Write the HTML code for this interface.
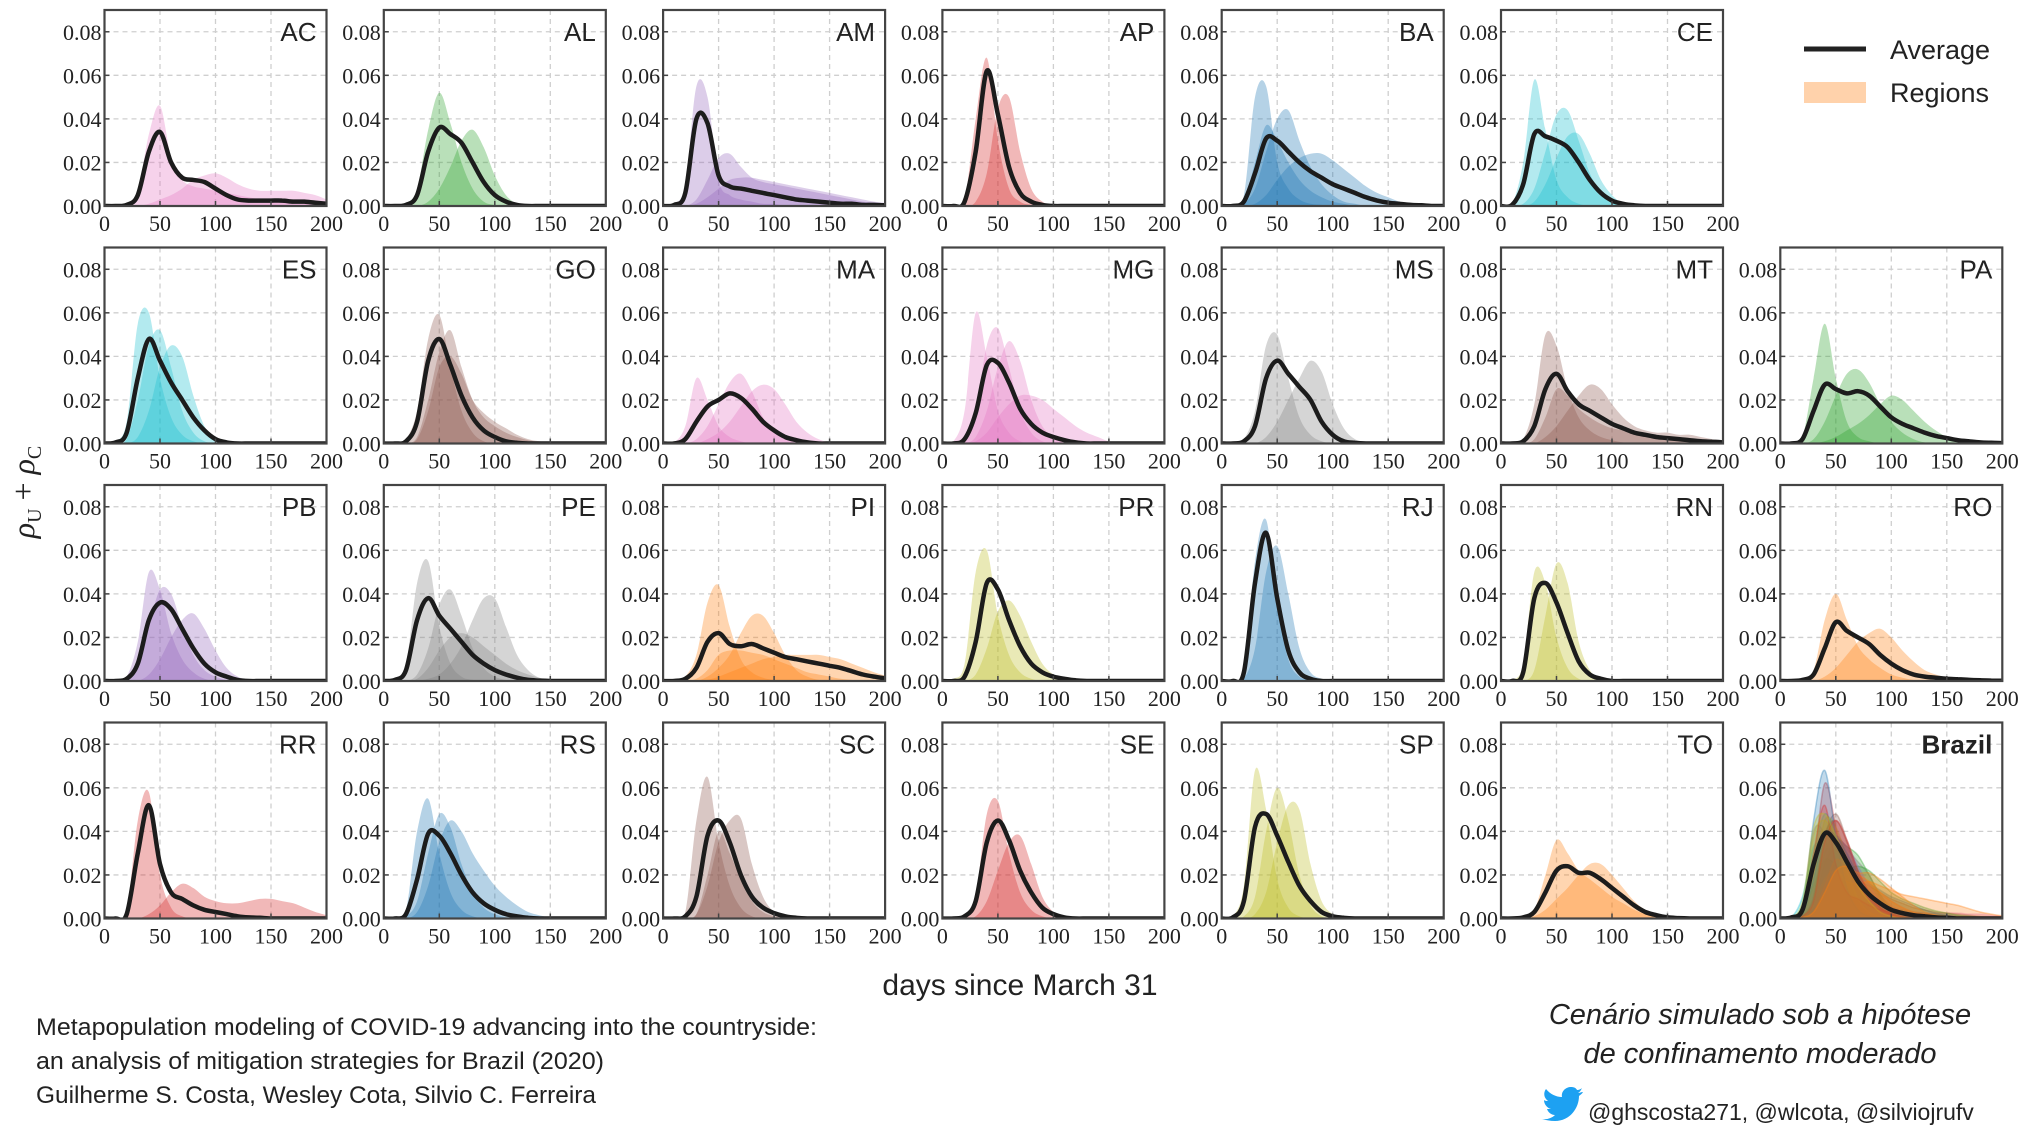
<!DOCTYPE html>
<html><head><meta charset="utf-8"><style>
html,body{margin:0;padding:0;background:#fff;}
svg{display:block;}
</style></head><body>
<svg id="chart" width="2027" height="1140" viewBox="0 0 2027 1140" xmlns="http://www.w3.org/2000/svg">
<g id="panels"></g>
<g>
  <line x1="1804" y1="49" x2="1866" y2="49" stroke="#222" stroke-width="5"/>
  <text x="1890" y="59" font-family="Liberation Sans, sans-serif" font-size="27" fill="#222">Average</text>
  <rect x="1804" y="82" width="62" height="21" fill="#ff7f0e" fill-opacity="0.35"/>
  <text x="1890" y="102" font-family="Liberation Sans, sans-serif" font-size="27" fill="#222">Regions</text>
</g>
<text x="1020" y="995" text-anchor="middle" font-family="Liberation Sans, sans-serif" font-size="30" fill="#222">days since March 31</text>
<text transform="translate(34,492) rotate(-90)" text-anchor="middle" font-family="Liberation Serif, serif" font-size="32" fill="#222"><tspan font-style="italic">ρ</tspan><tspan font-size="20" dy="7">U</tspan><tspan dy="-7"> + </tspan><tspan font-style="italic">ρ</tspan><tspan font-size="20" dy="7">C</tspan></text>
<g font-family="Liberation Sans, sans-serif" font-size="24" fill="#222">
  <text x="36" y="1035" textLength="781" lengthAdjust="spacingAndGlyphs">Metapopulation modeling of COVID-19 advancing into the countryside:</text>
  <text x="36" y="1069" textLength="568" lengthAdjust="spacingAndGlyphs">an analysis of mitigation strategies for Brazil (2020)</text>
  <text x="36" y="1103" textLength="560" lengthAdjust="spacingAndGlyphs">Guilherme S. Costa, Wesley Cota, Silvio C. Ferreira</text>
</g>
<g font-family="Liberation Sans, sans-serif" font-size="29" font-style="italic" fill="#222" text-anchor="middle">
  <text x="1760" y="1024">Cenário simulado sob a hipótese</text>
  <text x="1760" y="1063">de confinamento moderado</text>
</g>
<path transform="translate(0,13)" d="M1541,1106 c6,1 11,-1 14,-4 c-4,0 -7,-3 -8,-6 c1,0 3,0 4,0 c-4,-1 -7,-5 -7,-9 c1,1 3,1 4,1 c-4,-3 -5,-8 -2,-12 c4,5 10,8 16,8 c-1,-6 4,-10 9,-10 c3,0 5,1 6,3 c2,0 4,-1 5,-2 c-1,2 -2,4 -4,5 c2,0 3,-1 5,-1 c-1,2 -3,3 -4,4 c0,12 -9,25 -24,25 c-5,0 -9,-1 -14,-2 z" fill="#1da1f2"/>
<text x="1588" y="1120" font-family="Liberation Sans, sans-serif" font-size="23" fill="#222">@ghscosta271, @wlcota, @silviojrufv</text>
</svg>
<script>
// ---- data (values in thousandths, sampled every 10 days: 0..200) ----
const days = [0,10,20,30,40,50,60,70,80,90,100,110,120,130,140,150,160,170,180,190,200];
const xTicks = [0,50,100,150,200];
const xTickLabels = ["0","50","100","150","200"];
const yTicks = [0,20,40,60,80];
const yTickLabels = ["0.00","0.02","0.04","0.06","0.08"];
const panelNames = ["AC","AL","AM","AP","BA","CE",null,"ES","GO","MA","MG","MS","MT","PA","PB","PE","PI","PR","RJ","RN","RO","RR","RS","SC","SE","SP","TO","Brazil"];
const colors = {AC:"#e377c2",AL:"#2ca02c",AM:"#9467bd",AP:"#d62728",BA:"#1f77b4",CE:"#17becf",ES:"#17becf",GO:"#8c564b",MA:"#e377c2",MG:"#e377c2",MS:"#7f7f7f",MT:"#8c564b",PA:"#2ca02c",PB:"#9467bd",PE:"#7f7f7f",PI:"#ff7f0e",PR:"#bcbd22",RJ:"#1f77b4",RN:"#bcbd22",RO:"#ff7f0e",RR:"#d62728",RS:"#1f77b4",SC:"#8c564b",SE:"#d62728",SP:"#bcbd22",TO:"#ff7f0e"};
const averages = {
AC:[0,0,0.5,5,25,34,20,13,12,11,8,5,3,2.5,2.5,2.5,2.5,2,2,1.5,1],
AL:[0,0,0.5,5,25,36,33,29,20,11,5,2,0.5,0,0,0,0,0,0,0,0],
AM:[0,0.5,6,40,38,14,9,8,7,6,5,4,3,2.5,2,1.5,1,1,0.5,0.5,0.3],
AP:[0,0,2,25,62,42,18,6,2,0.5,0,0,0,0,0,0,0,0,0,0,0],
BA:[0,0,2,15,31,30,25,20,16,13,10,8,6,4,2.5,1.5,1,0.5,0.3,0,0],
CE:[0,0.5,10,33,32,30,27,20,12,6,2.5,1,0.3,0,0,0,0,0,0,0,0],
ES:[0,0.5,5,30,48,38,28,20,12,6,2,0.5,0,0,0,0,0,0,0,0,0],
GO:[0,0,1,10,38,48,36,22,12,6,3,1,0.3,0,0,0,0,0,0,0,0],
MA:[0,0,2,10,17,20,23,21,16,10,6,3,1.5,0.5,0,0,0,0,0,0,0],
MG:[0,0,2,14,36,37,28,16,9,5,3,1.5,0.5,0,0,0,0,0,0,0,0],
MS:[0,0,1,8,30,38,32,26,20,10,4,1,0.3,0,0,0,0,0,0,0,0],
MT:[0,0,1,8,25,32,24,18,15,12,9,7,5,4,3,2.5,2,1.5,1,0.8,0.5],
PA:[0,0,2,15,27,25,23,24,22,17,12,9,7,5,3.5,2.5,1.5,1,0.5,0.3,0.2],
PB:[0,0,1,8,28,36,33,24,15,8,4,2,0.5,0,0,0,0,0,0,0,0],
PE:[0,0.5,5,28,38,30,24,18,12,8,5,3,1.5,0.5,0.2,0,0,0,0,0,0],
PI:[0,0,1,6,18,22,17,16,17,15,13,11,10,9,8,7,6,4.5,3,2,1.2],
PR:[0,0,2,18,45,42,28,16,8,4,2,1,0.3,0,0,0,0,0,0,0,0],
RJ:[0,0,4,45,68,38,14,4,1,0,0,0,0,0,0,0,0,0,0,0,0],
RN:[0,0,4,38,45,36,22,9,3,1,0,0,0,0,0,0,0,0,0,0,0],
RO:[0,0,0.5,3,15,27,23,20,17,12,8,5,3,2,1.5,1,0.8,0.5,0.3,0.2,0.1],
RR:[0,0,2,30,52,25,12,9,6,4,3,2,1,0.5,0.3,0,0,0,0,0,0],
RS:[0,0,2,18,39,38,30,20,12,7,4,2,1,0.3,0,0,0,0,0,0,0],
SC:[0,0,1,10,38,45,35,20,10,5,2.5,1,0.3,0,0,0,0,0,0,0,0],
SE:[0,0,1,8,35,45,36,22,12,5,2,0.5,0,0,0,0,0,0,0,0,0],
SP:[0,0.5,8,42,48,38,26,15,8,3,1,0.3,0,0,0,0,0,0,0,0,0],
TO:[0,0,0.5,3,12,22,24,21,21,18,14,10,6,3,1.5,0.5,0.2,0,0,0,0],
Brazil:[0,0.5,4,25,39,35,26,17,11,7,4,2.5,1.5,1,0.5,0.3,0,0,0,0,0]
};
const regions = {
AC:[[0,0,1,7,33,46,22,12,9,8,7,6,5,4,3,2,2,1,1,0.5,0.3],[0,0,0,0,1,3,5,8,12,14,15,13,10,8,7,7,7,7,6,5,3]],
AL:[[0,0,1,8,35,52,38,20,8,2,0.5,0,0,0,0,0,0,0,0,0,0],[0,0,0,0,2,8,18,30,35,27,14,5,1,0,0,0,0,0,0,0,0]],
AM:[[0,1,10,55,50,12,5,3,2,1,1,0,0,0,0,0,0,0,0,0,0],[0,0,0,3,12,22,24,18,13,11,10,9,8,7,6,5,4,3,2,1.5,1],[0,0,0,1,4,8,12,13,13,12,11,10,9,8,7,6,5,4,3,2,1.5]],
AP:[[0,0,3,40,68,30,8,2,0.5,0,0,0,0,0,0,0,0,0,0,0,0],[0,0,0,2,15,45,50,25,8,2,0.5,0,0,0,0,0,0,0,0,0,0]],
BA:[[0,0,5,50,55,20,8,3,1,0.5,0,0,0,0,0,0,0,0,0,0,0],[0,0,1,8,25,40,44,30,18,10,5,2,1,0,0,0,0,0,0,0,0],[0,0,0,1,5,12,18,22,24,24,21,17,13,9,6,4,2,1,0.5,0,0],[0,0,2,20,37,30,20,12,7,4,2,1,0,0,0,0,0,0,0,0,0]],
CE:[[0,1,20,58,35,12,4,1,0,0,0,0,0,0,0,0,0,0,0,0,0],[0,0,1,8,25,42,44,30,15,6,2,0.5,0,0,0,0,0,0,0,0,0],[0,0,0,2,10,22,32,33,24,12,5,1,0,0,0,0,0,0,0,0,0]],
ES:[[0,1,10,55,60,30,12,4,1,0,0,0,0,0,0,0,0,0,0,0,0],[0,0,2,20,45,52,35,15,5,1,0,0,0,0,0,0,0,0,0,0,0],[0,0,0,3,15,35,45,40,22,8,2,0.3,0,0,0,0,0,0,0,0,0]],
GO:[[0,0,2,15,48,59,35,15,5,1,0,0,0,0,0,0,0,0,0,0,0],[0,0,0,3,20,42,52,35,20,12,8,5,3,1.5,0.8,0.4,0.2,0,0,0,0],[0,0,0,2,15,35,40,32,20,14,10,7,4,2,1,0.5,0,0,0,0,0]],
MA:[[0,0.5,8,30,20,8,3,1,0,0,0,0,0,0,0,0,0,0,0,0,0],[0,0,0,2,8,18,28,32,24,12,5,2,0.5,0,0,0,0,0,0,0,0],[0,0,0,0,2,5,10,17,24,27,25,18,10,5,2,0.5,0,0,0,0,0]],
MG:[[0,1,15,60,40,15,5,1,0,0,0,0,0,0,0,0,0,0,0,0,0],[0,0,2,15,45,53,35,15,5,1,0,0,0,0,0,0,0,0,0,0,0],[0,0,0,3,15,35,47,38,20,8,3,1,0,0,0,0,0,0,0,0,0],[0,0,0,1,5,12,18,22,22,20,16,12,8,5,3,1,0.5,0,0,0,0]],
MS:[[0,0,2,15,45,50,30,12,4,1,0,0,0,0,0,0,0,0,0,0,0],[0,0,0,0,3,10,20,30,38,33,18,7,2,0.5,0,0,0,0,0,0,0]],
MT:[[0,0,2,18,50,45,25,12,6,3,1.5,0.5,0,0,0,0,0,0,0,0,0],[0,0,0,0,3,8,15,22,27,25,18,12,8,6,5,5,4,4,3,2,1],[0,0,0,2,12,25,22,16,12,9,7,6,5,4,3,2,1.5,1,0.5,0.3,0]],
PA:[[0,0,3,30,55,30,10,3,1,0,0,0,0,0,0,0,0,0,0,0,0],[0,0,0,2,10,22,32,34,28,18,10,5,2,0.5,0,0,0,0,0,0,0],[0,0,0,0,1,3,6,9,13,18,22,20,15,10,6,3,1.5,0.5,0,0,0]],
PB:[[0,0,2,18,50,42,22,10,4,1,0,0,0,0,0,0,0,0,0,0,0],[0,0,1,6,25,42,40,25,12,5,2,0.5,0,0,0,0,0,0,0,0,0],[0,0,0,0,3,10,20,28,31,24,14,6,2,0.5,0,0,0,0,0,0,0]],
PE:[[0,1,8,45,55,25,8,2,0.5,0,0,0,0,0,0,0,0,0,0,0,0],[0,0,0,3,15,35,42,30,15,6,2,0.5,0,0,0,0,0,0,0,0,0],[0,0,0,0,1,3,8,16,28,38,38,25,12,5,1.5,0.5,0,0,0,0,0],[0,0,0,1,6,14,20,22,20,16,12,8,5,3,1.5,0.5,0,0,0,0,0]],
PI:[[0,0,2,12,36,44,25,10,4,1.5,0.5,0,0,0,0,0,0,0,0,0,0],[0,0,0,0,2,6,12,22,30,30,22,12,5,2,0.5,0,0,0,0,0,0],[0,0,0,0,0.5,2,4,6,8,10,11,12,12,12,12,11,10,8,6,4,2.5],[0,0,0,1,5,12,14,14,13,12,10,8,6,4,3,2,1,0.5,0,0,0]],
PR:[[0,1,8,50,60,30,12,4,1,0,0,0,0,0,0,0,0,0,0,0,0],[0,0,0,3,15,32,37,30,18,8,3,1,0,0,0,0,0,0,0,0,0]],
RJ:[[0,0,5,55,74,35,10,2,0.5,0,0,0,0,0,0,0,0,0,0,0,0],[0,0,1,15,50,62,40,15,4,1,0,0,0,0,0,0,0,0,0,0,0]],
RN:[[0,0.5,8,50,45,20,6,1,0,0,0,0,0,0,0,0,0,0,0,0,0],[0,0,0,5,30,54,45,18,5,1,0,0,0,0,0,0,0,0,0,0,0]],
RO:[[0,0,1,5,28,40,28,16,10,6,3,1.5,0.5,0,0,0,0,0,0,0,0],[0,0,0,0,2,6,12,18,22,24,20,14,9,5,3,1.5,1,0.5,0,0,0]],
RR:[[0,0,3,45,58,20,5,1,0,0,0,0,0,0,0,0,0,0,0,0,0],[0,0,0,0,2,6,12,16,14,10,8,7,7,8,9,9,8,7,5,3,1.5]],
RS:[[0,0,4,40,55,30,12,4,1,0,0,0,0,0,0,0,0,0,0,0,0],[0,0,1,8,30,48,42,25,12,5,2,0.5,0,0,0,0,0,0,0,0,0],[0,0,0,3,15,35,45,40,30,22,15,10,6,3,1.5,0.5,0,0,0,0,0]],
SC:[[0,0,3,45,65,35,15,5,1,0,0,0,0,0,0,0,0,0,0,0,0],[0,0,0,2,15,35,45,46,25,10,3,1,0,0,0,0,0,0,0,0,0],[0,0,0,2,20,40,30,18,8,3,1,0,0,0,0,0,0,0,0,0,0]],
SE:[[0,0,1,10,48,54,30,12,4,1,0,0,0,0,0,0,0,0,0,0,0],[0,0,0,1,8,22,35,38,25,10,3,0.5,0,0,0,0,0,0,0,0,0]],
SP:[[0,1,15,68,50,18,5,1,0,0,0,0,0,0,0,0,0,0,0,0,0],[0,0,1,10,40,60,45,20,6,1,0,0,0,0,0,0,0,0,0,0,0],[0,0,0,2,12,35,52,50,25,8,2,0.5,0,0,0,0,0,0,0,0,0]],
TO:[[0,0,0.5,4,20,36,30,22,18,14,10,7,4,2,1,0.3,0,0,0,0,0],[0,0,0,1,4,9,14,20,25,25,20,14,8,4,2,0.5,0,0,0,0,0]]
};
// ---- layout ----
const NS="http://www.w3.org/2000/svg";
const colX0=104.5, colPitch=279.3, panelW=222, rowY0=10, rowPitch=237.5, panelH=196, yMax=90, xMax=200;
function mk(tag, attrs, parent){const e=document.createElementNS(NS,tag);for(const k in attrs)e.setAttribute(k,attrs[k]);parent.appendChild(e);return e;}
function smoothPath(pts){
  let d="M"+pts[0][0].toFixed(1)+","+pts[0][1].toFixed(1);
  for(let i=0;i<pts.length-1;i++){
    const p0=pts[Math.max(i-1,0)],p1=pts[i],p2=pts[i+1],p3=pts[Math.min(i+2,pts.length-1)];
    const c1=[p1[0]+(p2[0]-p0[0])/6,p1[1]+(p2[1]-p0[1])/6];
    const c2=[p2[0]-(p3[0]-p1[0])/6,p2[1]-(p3[1]-p1[1])/6];
    d+=" C"+c1[0].toFixed(1)+","+c1[1].toFixed(1)+" "+c2[0].toFixed(1)+","+c2[1].toFixed(1)+" "+p2[0].toFixed(1)+","+p2[1].toFixed(1);
  }
  return d;
}
const root=document.getElementById("panels");
panelNames.forEach((name,idx)=>{
  if(!name) return;
  const col=idx%7,row=Math.floor(idx/7);
  const L=colX0+col*colPitch, T=rowY0+row*rowPitch, B=T+panelH, R=L+panelW;
  const xs=v=>L+v/xMax*panelW;
  const ys=v=>B-v/yMax*panelH;
  const g=mk("g",{},root);
  
  
  const cid="clip"+idx;
  const cp=mk("clipPath",{id:cid},g); mk("rect",{x:L,y:T,width:panelW,height:panelH},cp);
  xTicks.forEach(t=>{ if(t>0&&t<xMax){const l=mk("line",{x1:xs(t),x2:xs(t),y1:T,y2:B,stroke:"#cfcfcf","stroke-width":1.3,"stroke-dasharray":"5,4"},g);
    
    }});
  yTicks.forEach(t=>{ if(t>0){const l=mk("line",{x1:L,x2:R,y1:ys(t),y2:ys(t),stroke:"#cfcfcf","stroke-width":1.3,"stroke-dasharray":"5,4"},g);
    
    }});
  const dg=mk("g",{"clip-path":"url(#"+cid+")"},g);
  let regs;
  if(name==="Brazil"){ regs=Object.keys(averages).filter(k=>k!=="Brazil").map(k=>({v:averages[k],c:colors[k]})); }
  else { regs=regions[name].map(v=>({v:v,c:colors[name]})); }
  regs.forEach(r=>{
    const pts=days.map((d,i)=>[xs(d),ys(r.v[i])]);
    const p=mk("path",{d:smoothPath(pts)+" L"+xs(days[days.length-1])+","+B+" L"+xs(days[0])+","+B+" Z",fill:r.c,"fill-opacity":name==="Brazil"?0.28:0.33,stroke:r.c,"stroke-opacity":name==="Brazil"?0.35:0,"stroke-width":1.5},dg);
    
    
  });
  const avg=averages[name];
  const ap=mk("path",{d:smoothPath(days.map((d,i)=>[xs(d),ys(avg[i])])),fill:"none",stroke:"#1c1c1c","stroke-width":4.5,"stroke-linejoin":"round"},dg);
  
  
  const fr=mk("rect",{x:L,y:T,width:panelW,height:panelH,fill:"none",stroke:"#444","stroke-width":2.2},g);
  
  
  xTicks.forEach((t,i)=>{
    mk("line",{x1:xs(t),x2:xs(t),y1:B,y2:B-5,stroke:"#444","stroke-width":1.5},g);
    const tx=mk("text",{x:xs(t),y:B+25,"text-anchor":"middle","font-family":"Liberation Serif, serif","font-size":22,fill:"#222"},g);
    tx.textContent=xTickLabels[i];
    
    
  });
  yTicks.forEach((t,i)=>{
    mk("line",{x1:L,x2:L+5,y1:ys(t),y2:ys(t),stroke:"#444","stroke-width":1.5},g);
    const tx=mk("text",{x:L-3,y:ys(t)+8,"text-anchor":"end","font-family":"Liberation Serif, serif","font-size":22,fill:"#222"},g);
    tx.textContent=yTickLabels[i];
    
    
  });
  const ti=mk("text",{x:R-10,y:T+31,"text-anchor":"end","font-family":"Liberation Sans, sans-serif","font-size":26,"font-weight":name==="Brazil"?"bold":"normal",fill:"#222"},g);
  ti.textContent=name;
  
  
});
</script>
</body></html>
